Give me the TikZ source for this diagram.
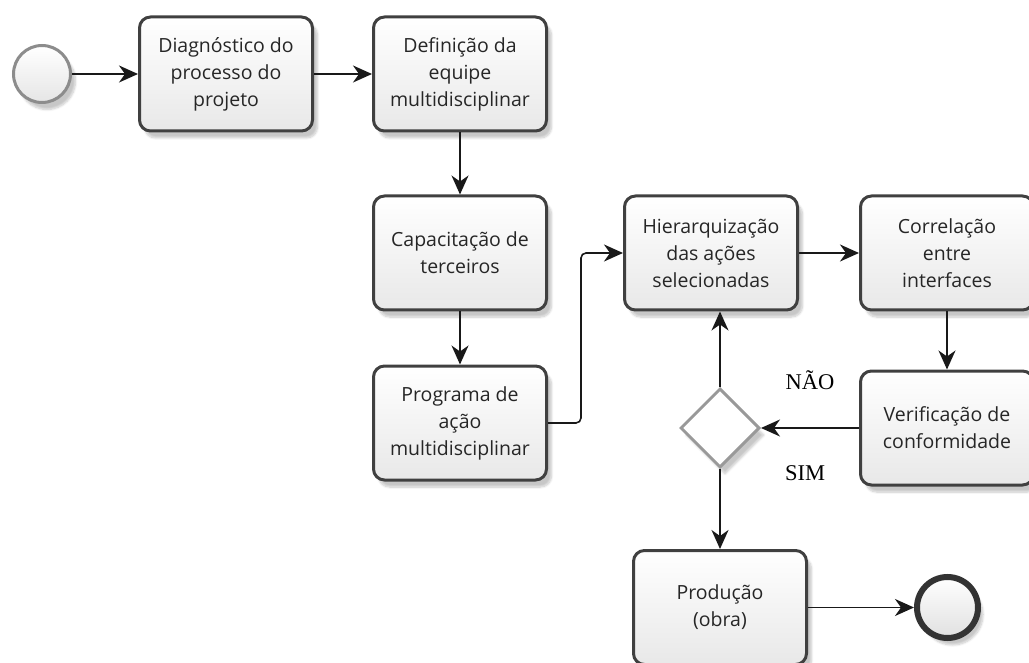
\documentclass[tikz,border=0pt]{standalone}
\usepackage{fontspec}
\setmainfont{Open Sans}
\newfontfamily\labelfont{Liberation Serif}
\usetikzlibrary{shapes.geometric, arrows.meta, positioning, shadows.blur}

\begin{document}
\begin{tikzpicture}[x=1pt,y=1pt,
  task/.style={draw=black!75,line width=3pt,rounded corners=11pt,top color=white,bottom color=black!9,
    minimum width=173pt,minimum height=114pt,align=center,text=black!85,font=\fontsize{19.5}{27}\selectfont,
    blur shadow={shadow xshift=5pt,shadow yshift=-7pt,shadow blur steps=8,shadow opacity=22}},
  gateway/.style={diamond,draw=black!40,line width=3pt,fill=white,inner sep=0pt,minimum width=79pt,minimum height=79pt,
    blur shadow={shadow xshift=5pt,shadow yshift=-7pt,shadow blur steps=8,shadow opacity=22}},
  startevent/.style={circle,draw=black!45,line width=3pt,top color=white,bottom color=black!10,minimum size=57pt,
    blur shadow={shadow xshift=5pt,shadow yshift=-7pt,shadow blur steps=8,shadow opacity=22}},
  endevent/.style={circle,draw=black!80,line width=6pt,top color=white,bottom color=black!12,minimum size=61pt,
    blur shadow={shadow xshift=5pt,shadow yshift=-7pt,shadow blur steps=8,shadow opacity=22}},
  flow/.style={-{Stealth[length=19pt,width=17pt,inset=6pt]},line width=1.6pt,black!90},
  answer/.style={font=\labelfont\fontsize{22.5}{22.5}\selectfont}]
  \useasboundingbox (0,0) rectangle (1029,-663);
  \node[task] (diag) at (226,-74) {Diagnóstico do\\processo do\\projeto};
  \node[startevent,left=66pt of diag] (inicio) {};
  \node[task,right=58pt of diag] (equipe) {Definição da\\equipe\\multidisciplinar};
  \node[task,below=62pt of equipe] (capac) {Capacitação de\\terceiros};
  \node[task,below=53pt of capac] (progr) {Programa de\\ação\\multidisciplinar};
  \node[task,right=75pt of capac] (hier) {Hierarquização\\das ações\\selecionadas};
  \node[task,right=60pt of hier] (correl) {Correlação\\entre\\interfaces};
  \node[task,below=58pt of correl] (verif) {Verificação de\\conformidade};
  \node[gateway,left=98pt of verif] (decisao) {};
  \node[task,below=80pt of decisao] (prod) {Produção\\(obra)};
  \node[endevent,right=106pt of prod] (fim) {};
  \node[answer] (nao) at (810,-380) {NÃO};
  \node[answer] (sim) at (805,-473) {SIM};
  \draw[flow] (inicio) -- (diag);
  \draw[flow] (diag) -- (equipe);
  \draw[flow] (equipe) -- (capac);
  \draw[flow] (capac) -- (progr);
  \draw[flow,rounded corners=5pt] (progr.east) -- ++(33,0) |- (hier.west);
  \draw[flow] (hier) -- (correl);
  \draw[flow] (correl) -- (verif);
  \draw[flow] (verif) -- (decisao);
  \draw[flow] (decisao.north) -- (decisao.north |- hier.south);
  \draw[flow] (decisao) -- (prod);
  \draw[flow] (prod) -- (fim);
\end{tikzpicture}
\end{document}
